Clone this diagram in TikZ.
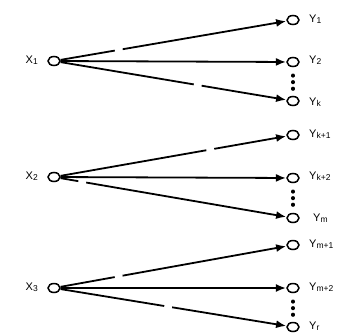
\documentclass[tikz,border=0pt]{standalone}
\usepackage{fontspec}
\setmainfont{Liberation Sans}
\usetikzlibrary{arrows.meta,shapes.geometric}
\begin{document}
\begin{tikzpicture}[x=1pt,y=-1pt,
  vert/.style={draw,line width=1.5pt,ellipse,minimum width=12pt,minimum height=9pt,inner sep=0pt},
  lab/.style={font=\fontsize{11}{12}\selectfont,inner sep=0pt,anchor=west},
  arr/.style={line width=1.8pt,-{Latex[length=10pt,width=8pt]},shorten >=0.3pt},
  diag/.style={arr,dash pattern=on 55pt off 8pt on 200pt},
  diagb/.style={arr,dash pattern=on 135pt off 8pt on 200pt},
  vdots/.style={line width=3.5pt,line cap=round,dash pattern=on 0.6pt off 6pt,shorten <=8pt,shorten >=6pt}]
\useasboundingbox (0,0) rectangle (358,333);
\def\sub#1{\raisebox{-0.2ex}{\fontsize{8.5}{9}\selectfont#1}}
% group 1
\node[vert] (x1) at (54,61) {};
\node[lab,anchor=east] (lx1) at (38,60) {X\sub{1}};
\node[vert] (y1) at (293,20) {};
\node[vert] (y2) at (293,62) {};
\node[vert] (yk) at (293,101) {};
\node[lab] (ly1) at (309,19) {Y\sub{1}};
\node[lab] (ly2) at (309,60) {Y\sub{2}};
\node[lab] (lyk) at (309,102) {Y\sub{k}};
\draw[diag] (x1) -- (y1);
\draw[arr] (x1) -- (y2);
\draw[diagb] (x1) -- (yk);
\draw[vdots] (y2) -- (yk);
% group 2
\node[vert] (x2) at (54,177) {};
\node[lab,anchor=east] (lx2) at (38,176) {X\sub{2}};
\node[vert] (y3) at (293,135) {};
\node[vert] (y4) at (293,178) {};
\node[vert] (ym) at (293,218) {};
\node[lab] (ly3) at (309,134) {Y\sub{k+1}};
\node[lab] (ly4) at (309,176) {Y\sub{k+2}};
\node[lab] (lym) at (313,218) {Y\sub{m}};
\draw[arr,dash pattern=on 148pt off 8pt on 200pt] (x2) -- (y3);
\draw[arr] (x2) -- (y4);
\draw[arr,dash pattern=on 18pt off 8pt on 200pt] (x2) -- (ym);
\draw[vdots] (y4) -- (ym);
% group 3
\node[vert] (x3) at (54,288) {};
\node[lab,anchor=east] (lx3) at (38,287) {X\sub{3}};
\node[vert] (y5) at (293,245) {};
\node[vert] (y6) at (293,288) {};
\node[vert] (yr) at (293,327) {};
\node[lab] (ly5) at (309,244) {Y\sub{m+1}};
\node[lab] (ly6) at (309,287) {Y\sub{m+2}};
\node[lab] (lyr) at (309,326) {Y\sub{r}};
\draw[diag] (x3) -- (y5);
\draw[arr] (x3) -- (y6);
\draw[arr,dash pattern=on 105pt off 8pt on 200pt] (x3) -- (yr);
\draw[vdots] (y6) -- (yr);
\end{tikzpicture}
\end{document}
